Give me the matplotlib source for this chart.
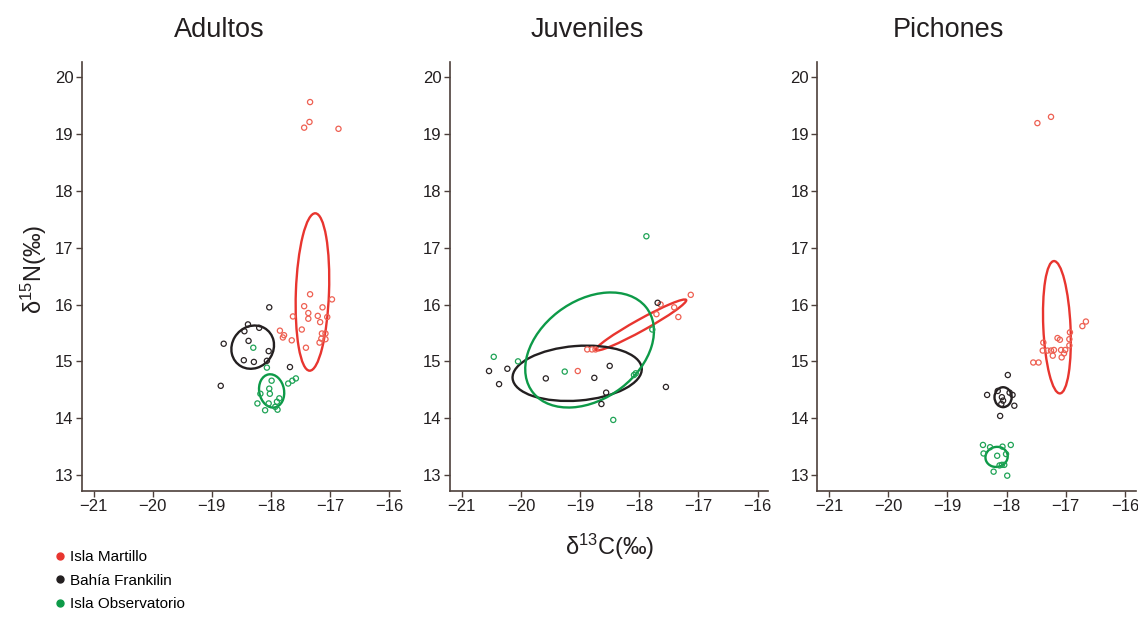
import matplotlib.pyplot as plt
from matplotlib.patches import Ellipse
from matplotlib.lines import Line2D

plt.rcParams['font.family'] = ['Liberation Sans', 'DejaVu Sans']
plt.rcParams['mathtext.fontset'] = 'custom'
plt.rcParams['mathtext.rm'] = 'Liberation Sans'
plt.rcParams['mathtext.it'] = 'Liberation Sans:italic'
plt.rcParams['mathtext.default'] = 'rm'

# site names / colours
sites = ['Isla Martillo', 'Bahía Frankilin', 'Isla Observatorio']
colors = ['#e8352f', '#231f20', '#0d9a48']
point_colors = ['#ee6052', '#2b2425', '#1fa356']
panels = ['Adultos', 'Juveniles', 'Pichones']

# ---- Adultos ----
adu_mar_x = [-17.34, -17.35, -17.44, -16.86, -17.34, -16.97, -17.44, -17.13, -17.37,
             -17.63, -17.21, -17.05, -17.37, -17.17, -17.85, -17.48, -17.78, -17.80,
             -17.65, -17.14, -17.08, -17.15, -17.08, -17.18, -17.41]
adu_mar_y = [19.56, 19.21, 19.11, 19.09, 16.18, 16.09, 15.97, 15.95, 15.85,
             15.79, 15.80, 15.78, 15.75, 15.69, 15.54, 15.56, 15.46, 15.42,
             15.37, 15.49, 15.49, 15.40, 15.39, 15.33, 15.24]
adu_fra_x = [-18.03, -18.39, -18.45, -18.20, -18.80, -18.38, -18.04, -18.46, -18.29,
             -18.07, -17.68, -18.85]
adu_fra_y = [15.95, 15.65, 15.53, 15.59, 15.31, 15.36, 15.18, 15.02, 14.99,
             15.01, 14.90, 14.57]
adu_obs_x = [-18.30, -18.07, -17.99, -17.71, -17.64, -17.58, -18.03, -18.02, -18.18,
             -18.23, -18.10, -18.04, -17.90, -17.86, -17.89, -17.93]
adu_obs_y = [15.24, 14.89, 14.66, 14.61, 14.66, 14.70, 14.52, 14.43, 14.43,
             14.26, 14.14, 14.26, 14.29, 14.35, 14.15, 14.20]

# ---- Juveniles ----
juv_mar_x = [-19.04, -18.88, -18.80, -18.74, -17.13, -17.64, -17.71, -17.41, -17.34]
juv_mar_y = [14.83, 15.21, 15.21, 15.21, 16.17, 16.00, 15.83, 15.95, 15.78]
juv_fra_x = [-20.54, -20.37, -20.23, -19.58, -18.76, -18.50, -18.56, -18.64, -17.69, -17.55]
juv_fra_y = [14.83, 14.60, 14.87, 14.70, 14.71, 14.92, 14.45, 14.25, 16.03, 14.55]
juv_obs_x = [-17.88, -20.46, -20.05, -19.26, -18.44, -17.78, -18.06, -18.09]
juv_obs_y = [17.20, 15.08, 15.00, 14.82, 13.97, 15.56, 14.79, 14.76]

# ---- Pichones ----
pic_mar_x = [-17.48, -17.25, -16.72, -16.66, -17.55, -17.46, -17.38, -17.39, -17.31,
             -17.25, -17.20, -17.22, -17.14, -17.10, -17.08, -17.01, -17.07, -17.03,
             -16.94, -16.93, -16.94]
pic_mar_y = [19.19, 19.30, 15.62, 15.70, 14.98, 14.98, 15.33, 15.19, 15.19,
             15.19, 15.20, 15.10, 15.41, 15.38, 15.20, 15.20, 15.07, 15.14,
             15.39, 15.51, 15.28]
pic_fra_x = [-17.98, -18.33, -18.11, -17.87, -17.90, -18.08, -18.06, -18.15, -17.95, -18.09]
pic_fra_y = [14.76, 14.41, 14.04, 14.22, 14.41, 14.37, 14.31, 14.48, 14.45, 14.25]
pic_obs_x = [-18.40, -17.93, -18.07, -18.28, -18.39, -18.16, -18.01, -18.22, -17.99,
             -18.12, -18.08, -18.04]
pic_obs_y = [13.53, 13.53, 13.50, 13.49, 13.38, 13.34, 13.37, 13.06, 12.99,
             13.17, 13.18, 13.18]

# standard ellipses: centre x, centre y, width, height, angle
adu_ell = [(-17.30, 16.22, 2.77, 0.56, 88.0),
           (-18.31, 15.25, 0.70, 0.78, -30.0),
           (-17.99, 14.48, 0.42, 0.59, 10.0)]
juv_ell = [(-17.97, 15.64, 1.76, 0.20, 30.0),
           (-19.05, 14.79, 2.19, 0.96, 4.7),
           (-18.84, 15.20, 2.43, 1.71, 38.8)]
pic_ell = [(-17.15, 15.60, 2.33, 0.46, 92.5),
           (-18.06, 14.37, 0.29, 0.35, 0.0),
           (-18.17, 13.32, 0.38, 0.35, 20.0)]

points = [
    [(adu_mar_x, adu_mar_y), (adu_fra_x, adu_fra_y), (adu_obs_x, adu_obs_y)],
    [(juv_mar_x, juv_mar_y), (juv_fra_x, juv_fra_y), (juv_obs_x, juv_obs_y)],
    [(pic_mar_x, pic_mar_y), (pic_fra_x, pic_fra_y), (pic_obs_x, pic_obs_y)],
]
ellipses = [adu_ell, juv_ell, pic_ell]

spine_col = '#4d403b'
fig = plt.figure(figsize=(11.38, 6.17), dpi=100)
lefts = [0.0718, 0.3954, 0.7182]
title_x = [0.193, 0.516, 0.833]

for p in range(3):
    ax = fig.add_axes([lefts[p], 0.2042, 0.2797, 0.6958])
    for s in range(3):
        xs, ys = points[p][s]
        ax.scatter(xs, ys, s=14, facecolors='none', edgecolors=point_colors[s],
                   linewidths=0.9, zorder=3)
        cx, cy, w, h, ang = ellipses[p][s]
        ax.add_patch(Ellipse((cx, cy), w, h, angle=ang, fill=False,
                             edgecolor=colors[s], linewidth=1.7, zorder=2))
    ax.set_xlim(-21.2, -15.82)
    ax.set_ylim(12.72, 20.27)
    ax.set_xticks([-21, -20, -19, -18, -17, -16])
    ax.set_xticklabels(['\u221221', '\u221220', '\u221219', '\u221218', '\u221217', '\u221216'])
    ax.set_yticks([13, 14, 15, 16, 17, 18, 19, 20])
    for side in ['top', 'right']:
        ax.spines[side].set_visible(False)
    for side in ['left', 'bottom']:
        ax.spines[side].set_color(spine_col)
        ax.spines[side].set_linewidth(1.2)
    ax.tick_params(direction='out', length=4, width=1, color=spine_col,
                   labelsize=12, labelcolor='#231f20', pad=2)
    fig.text(title_x[p], 0.952, panels[p], ha='center', va='center',
             fontsize=19.5, color='#231f20')

fig.text(0.536, 0.113, '\u03b4$^{13}$C(\u2030)', ha='center', va='center',
         fontsize=17, color='#231f20')
fig.text(0.03, 0.563, '\u03b4$^{15}$N(\u2030)', ha='center', va='center',
         rotation=90, fontsize=17, color='#231f20')

handles = [Line2D([], [], marker='o', linestyle='none', markersize=5,
                  markerfacecolor=c, markeredgecolor=c) for c in colors]
fig.legend(handles, sites, loc='upper left', bbox_to_anchor=(0.049, 0.108),
           frameon=False, handlelength=0.6, handletextpad=0.3,
           labelspacing=0.62, borderaxespad=0, borderpad=0,
           prop={'family': 'Liberation Sans', 'size': 11})

fig.savefig('out.png', dpi=100)
